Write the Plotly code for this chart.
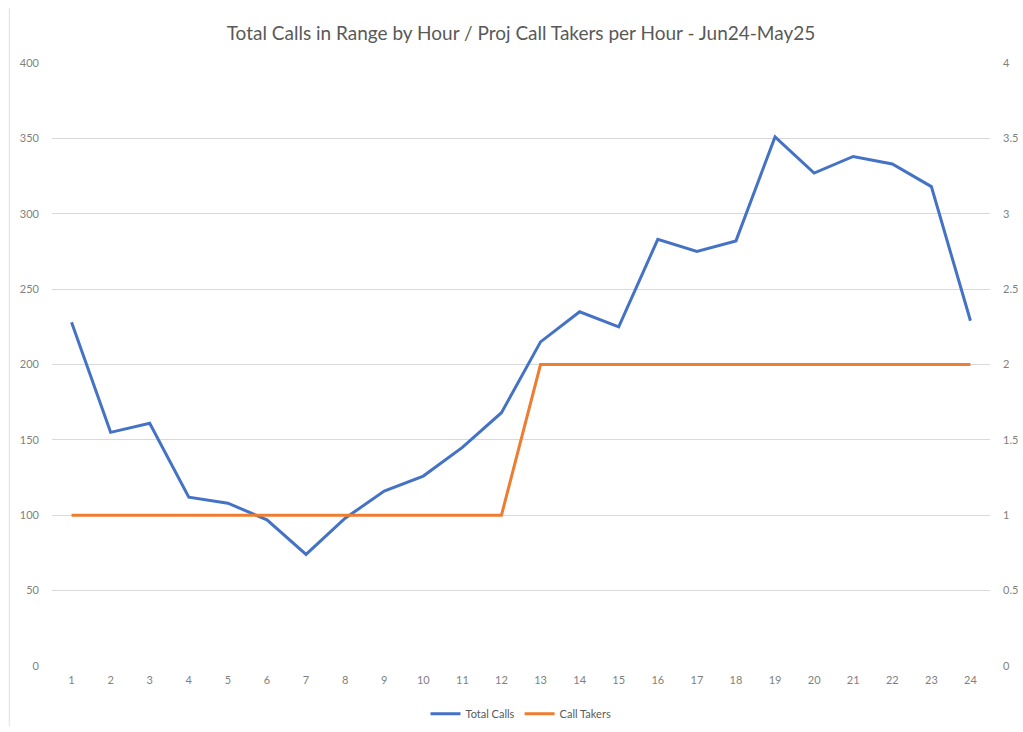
import plotly.graph_objects as go

hours = list(range(1, 25))
hour_labels = [str(h) for h in hours]
total_calls = [228, 155, 161, 112, 108, 97, 74, 98, 116, 126, 145, 168,
               215, 235, 225, 283, 275, 282, 351, 327, 338, 333, 318, 229]
call_takers = [1, 1, 1, 1, 1, 1, 1, 1, 1, 1, 1, 1,
               2, 2, 2, 2, 2, 2, 2, 2, 2, 2, 2, 2]
left_ticks = [0, 50, 100, 150, 200, 250, 300, 350, 400]
right_ticks = [0, 0.5, 1, 1.5, 2, 2.5, 3, 3.5, 4]

FONT = "Lato, 'Open Sans', sans-serif"
GRAY = "#7f7f7f"

fig = go.Figure()
fig.add_trace(go.Scatter(x=hours, y=total_calls, name="Total Calls", mode="lines",
                         line=dict(color="#4472C4", width=3), yaxis="y"))
fig.add_trace(go.Scatter(x=hours, y=call_takers, name="Call Takers", mode="lines",
                         line=dict(color="#ED7D31", width=3), yaxis="y2"))

fig.update_layout(
    width=1023, height=732,
    margin=dict(l=52, r=33, t=63, b=66, autoexpand=False),
    paper_bgcolor="white", plot_bgcolor="white",
    font=dict(family=FONT, size=11, color=GRAY),
    title=dict(text="Total Calls in Range by Hour / Proj Call Takers per Hour - Jun24-May25",
               xref="paper", x=0.5, xanchor="center", y=0.955, yanchor="middle",
               font=dict(family=FONT, size=19, color="#595959")),
    xaxis=dict(range=[0.5, 24.5], tickmode="array", tickvals=hours, ticktext=hour_labels,
               showgrid=False, zeroline=False, showline=False, ticks="",
               ticklabelstandoff=6, tickfont=dict(size=11, color=GRAY)),
    yaxis=dict(range=[0, 400], tickmode="array", tickvals=left_ticks,
               showgrid=True, gridcolor="#d9d9d9", gridwidth=1, zeroline=False,
               showline=False, ticks="", ticklabelstandoff=12,
               tickfont=dict(size=11, color=GRAY)),
    yaxis2=dict(range=[0, 4], tickmode="array", tickvals=right_ticks,
                overlaying="y", side="right", showgrid=False, zeroline=False,
                showline=False, ticks="", ticklabelstandoff=12,
                tickfont=dict(size=11, color=GRAY)),
    legend=dict(orientation="h", x=0.5, xanchor="center", y=-0.055, yanchor="top",
                font=dict(size=11, color="#595959"), itemwidth=30,
                bgcolor="rgba(0,0,0,0)"),
    showlegend=True,
)

fig.add_shape(type="line", xref="paper", yref="paper", x0=-0.0455, x1=-0.0455, y0=-0.1, y1=1.09,
              line=dict(color="#e0e0e0", width=1))

fig.write_html("out.html", config={"displayModeBar": False},
               post_script="document.body.style.margin='0';document.body.style.overflow='hidden';")
